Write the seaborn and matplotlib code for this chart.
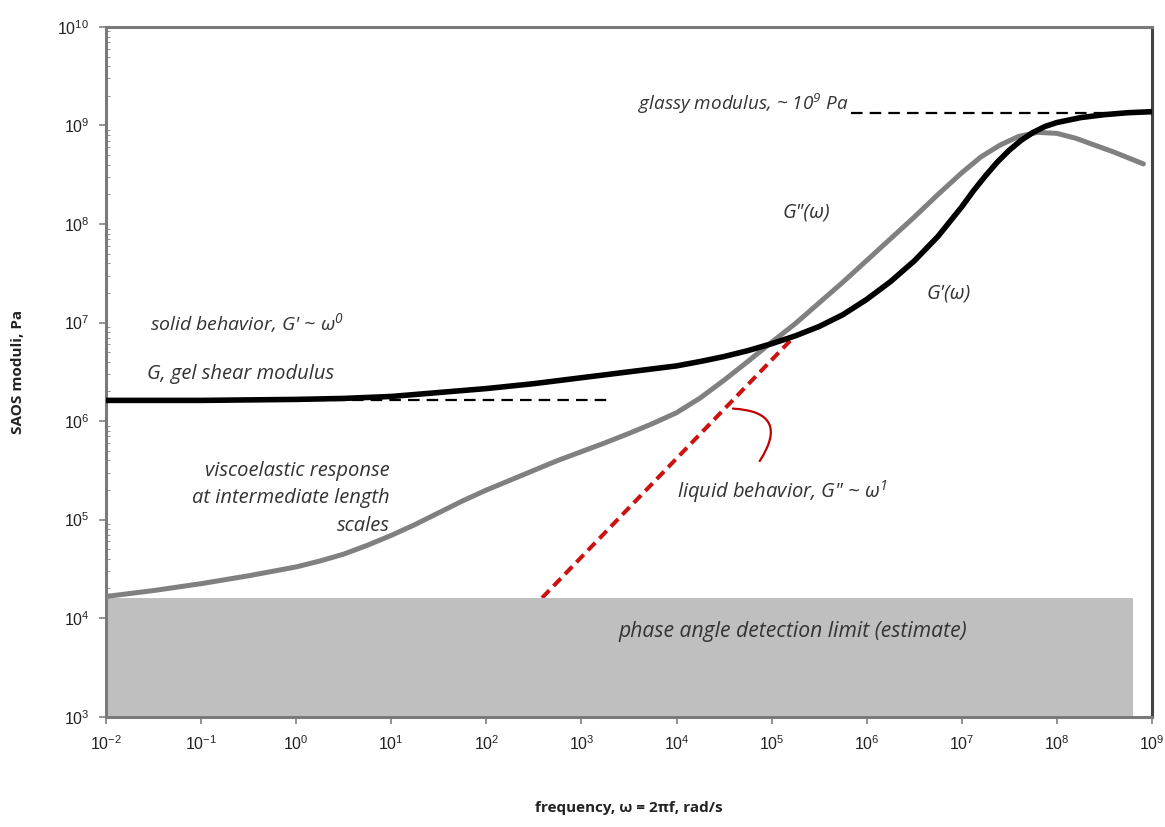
import numpy as np
import pandas as pd
import matplotlib
matplotlib.use("Agg")
import matplotlib.pyplot as plt
import seaborn as sns

# ---------------- data (log10 values) ----------------
# G''(omega) - loss modulus (gray)
gpp_logw = [-2.0, -1.5, -1.0, -0.5, 0.0, 0.25, 0.5, 0.75, 1.0, 1.25, 1.5, 1.75,
            2.0, 2.25, 2.5, 2.75, 3.0, 3.25, 3.5, 3.75, 4.0, 4.25, 4.5, 4.75,
            5.0, 5.25, 5.5, 5.75, 6.0, 6.25, 6.5, 6.75, 7.0, 7.2, 7.4, 7.6,
            7.8, 8.0, 8.2, 8.4, 8.6, 8.91]
gpp_logG = [4.22, 4.28, 4.35, 4.43, 4.52, 4.58, 4.65, 4.74, 4.84, 4.95, 5.07, 5.19,
            5.30, 5.40, 5.50, 5.60, 5.69, 5.78, 5.875, 5.975, 6.085, 6.235, 6.415, 6.605,
            6.80, 6.99, 7.20, 7.41, 7.63, 7.85, 8.07, 8.30, 8.52, 8.68, 8.80, 8.89,
            8.93, 8.92, 8.87, 8.80, 8.73, 8.61]
# G'(omega) - storage modulus (black)
gp_logw = [-2.0, -1.0, -0.5, 0.0, 0.5, 1.0, 1.5, 2.0, 2.5, 3.0, 3.5, 4.0, 4.25,
           4.5, 4.75, 5.0, 5.25, 5.5, 5.75, 6.0, 6.25, 6.5, 6.75, 7.0, 7.125,
           7.25, 7.375, 7.5, 7.625, 7.75, 7.875, 8.0, 8.25, 8.5, 8.75, 9.0]
gp_logG = [6.21, 6.21, 6.215, 6.22, 6.23, 6.25, 6.29, 6.33, 6.38, 6.44, 6.50, 6.56, 6.605,
           6.655, 6.715, 6.785, 6.865, 6.96, 7.08, 7.235, 7.415, 7.625, 7.875, 8.175, 8.34,
           8.49, 8.63, 8.75, 8.85, 8.93, 8.99, 9.03, 9.08, 9.11, 9.13, 9.14]
# liquid behaviour asymptote G'' ~ omega^1 (red dashed)
liq_logw = [1.38, 5.23]
liq_logG = [3.0, 6.85]
# gel shear modulus plateau (black dashed)
gel_logw = [-0.59, 3.27]
gel_logG = [6.21, 6.21]
# glassy modulus (black dashed)
glass_logw = [5.83, 9.0]
glass_logG = [9.13, 9.13]
# phase angle detection limit (gray band)
detect_logw = [-2.0, 8.80]
detect_top = 4.2
detect_bottom = 3.0

xtick_exp = list(range(-2, 10))
ytick_exp = list(range(3, 11))

# ---------------- style ----------------
sns.set_theme(style="white")
plt.rcParams["font.family"] = ["Liberation Sans", "DejaVu Sans"]
plt.rcParams["mathtext.fontset"] = "custom"
plt.rcParams["mathtext.rm"] = "Liberation Sans"
plt.rcParams["mathtext.default"] = "regular"

ANN_FONT = ["Open Sans", "DejaVu Sans"]
TXT = "#333333"

fig = plt.figure(figsize=(11.65, 8.27), dpi=100)
ax = fig.add_axes([0.0910, 0.1334, 0.8978, 0.8340])
ax.set_xscale("log")
ax.set_yscale("log")

p = lambda a: np.power(10.0, np.asarray(a, dtype=float))

# detection band
ax.fill_between(p(detect_logw), p(detect_bottom), p(detect_top),
                color="#bfbfbf", lw=0, zorder=2)

# red liquid asymptote (under the band)
sns.lineplot(x=p(liq_logw), y=p(liq_logG), ax=ax, color="#cc1111", lw=2.9,
             zorder=1, sort=False).lines[-1].set_dashes([2.6, 1.5])

# dashed plateaus
l1 = sns.lineplot(x=p(gel_logw), y=p(gel_logG), ax=ax, color="black", lw=1.6,
                  zorder=3).lines[-1]
l1.set_dashes([5.2, 3.2])
l2 = sns.lineplot(x=p(glass_logw), y=p(glass_logG), ax=ax, color="black", lw=1.6,
                  zorder=3).lines[-1]
l2.set_dashes([5.2, 3.2])

# curves
sns.lineplot(x=p(gpp_logw), y=p(gpp_logG), ax=ax, color="#808080", lw=3.6,
             zorder=4, sort=False)
sns.lineplot(x=p(gp_logw), y=p(gp_logG), ax=ax, color="black", lw=4.0,
             zorder=5, sort=False)
for ln in ax.lines[-2:]:
    ln.set_solid_joinstyle("round")
    ln.set_solid_capstyle("round")

# bracket pointer
ax.annotate("", xy=(10**4.859, 10**5.571), xytext=(10**4.564, 10**6.128),
            arrowprops=dict(arrowstyle="-", color="#c00000", lw=1.6,
                            connectionstyle="arc3,rad=-0.9"), zorder=6)

# ---------------- annotations ----------------
kw = dict(family=ANN_FONT, style="italic", color=TXT, fontsize=14.5)
ax.text(10**5.806, 10**9.218, "glassy modulus, ~ 10$^9$ Pa", ha="right", va="center",
        **{**kw, "fontsize": 13.6})
ax.text(10**5.37, 10**8.117, 'G"(ω)', ha="center", va="center", **kw)
ax.text(10**6.86, 10**7.29, "G'(ω)", ha="center", va="center", **kw)
ax.text(10**-1.537, 10**7.0, "solid behavior, G' ~ ω$^0$", ha="left", va="center",
        **{**kw, "fontsize": 14.0})
ax.text(10**-1.572, 10**6.479, "G, gel shear modulus", ha="left", va="center", **kw)
ax.text(10**0.98, 10**5.216, "viscoelastic response\nat intermediate length\nscales",
        ha="right", va="center", multialignment="right", linespacing=1.5, **kw)
ax.text(10**4.003, 10**5.28, 'liquid behavior, G" ~ ω$^1$', ha="left", va="center", **kw)
ax.text(10**3.389, 10**3.861, "phase angle detection limit (estimate)",
        ha="left", va="center", zorder=7, **{**kw, "fontsize": 15.2})

# ---------------- axes ----------------
ax.set_xlim(1e-2, 1e9)
ax.set_ylim(1e3, 1e10)
ax.set_xticks(p(xtick_exp))
ax.set_xticklabels([r"$10^{%d}$" % e for e in xtick_exp])
ax.set_yticks(p(ytick_exp))
ax.set_yticklabels([r"$10^{%d}$" % e for e in ytick_exp])
ax.xaxis.set_minor_locator(matplotlib.ticker.NullLocator())
ax.yaxis.set_minor_locator(matplotlib.ticker.LogLocator(base=10, subs=np.arange(2, 10)))
ax.yaxis.set_minor_formatter(matplotlib.ticker.NullFormatter())

ax.tick_params(axis="both", which="major", direction="out", length=5, width=1.2,
               color="#808080", labelsize=11.5, labelcolor="#222222")
ax.tick_params(axis="x", which="major", pad=8)
ax.tick_params(axis="y", which="major", pad=7, left=True)
ax.tick_params(axis="y", which="minor", direction="in", length=3, width=0.8,
               color="#999999", left=True)
ax.tick_params(axis="x", bottom=True)

for side in ["left", "bottom", "top"]:
    ax.spines[side].set_color("#7a7a7a")
    ax.spines[side].set_linewidth(2.2)
ax.spines["right"].set_color("#444444")
ax.spines["right"].set_linewidth(2.2)

ax.set_xlabel("frequency, ω = 2πf, rad/s", family=["Open Sans", "DejaVu Sans"],
              fontweight="bold", fontsize=11, color="#222222")
ax.set_ylabel("SAOS moduli, Pa", family=["Open Sans", "DejaVu Sans"],
              fontweight="bold", fontsize=11, color="#222222")
ax.xaxis.set_label_coords(0.5, -0.1216)
ax.yaxis.set_label_coords(-0.0774, 0.5)

fig.savefig("out.png", dpi=100)
